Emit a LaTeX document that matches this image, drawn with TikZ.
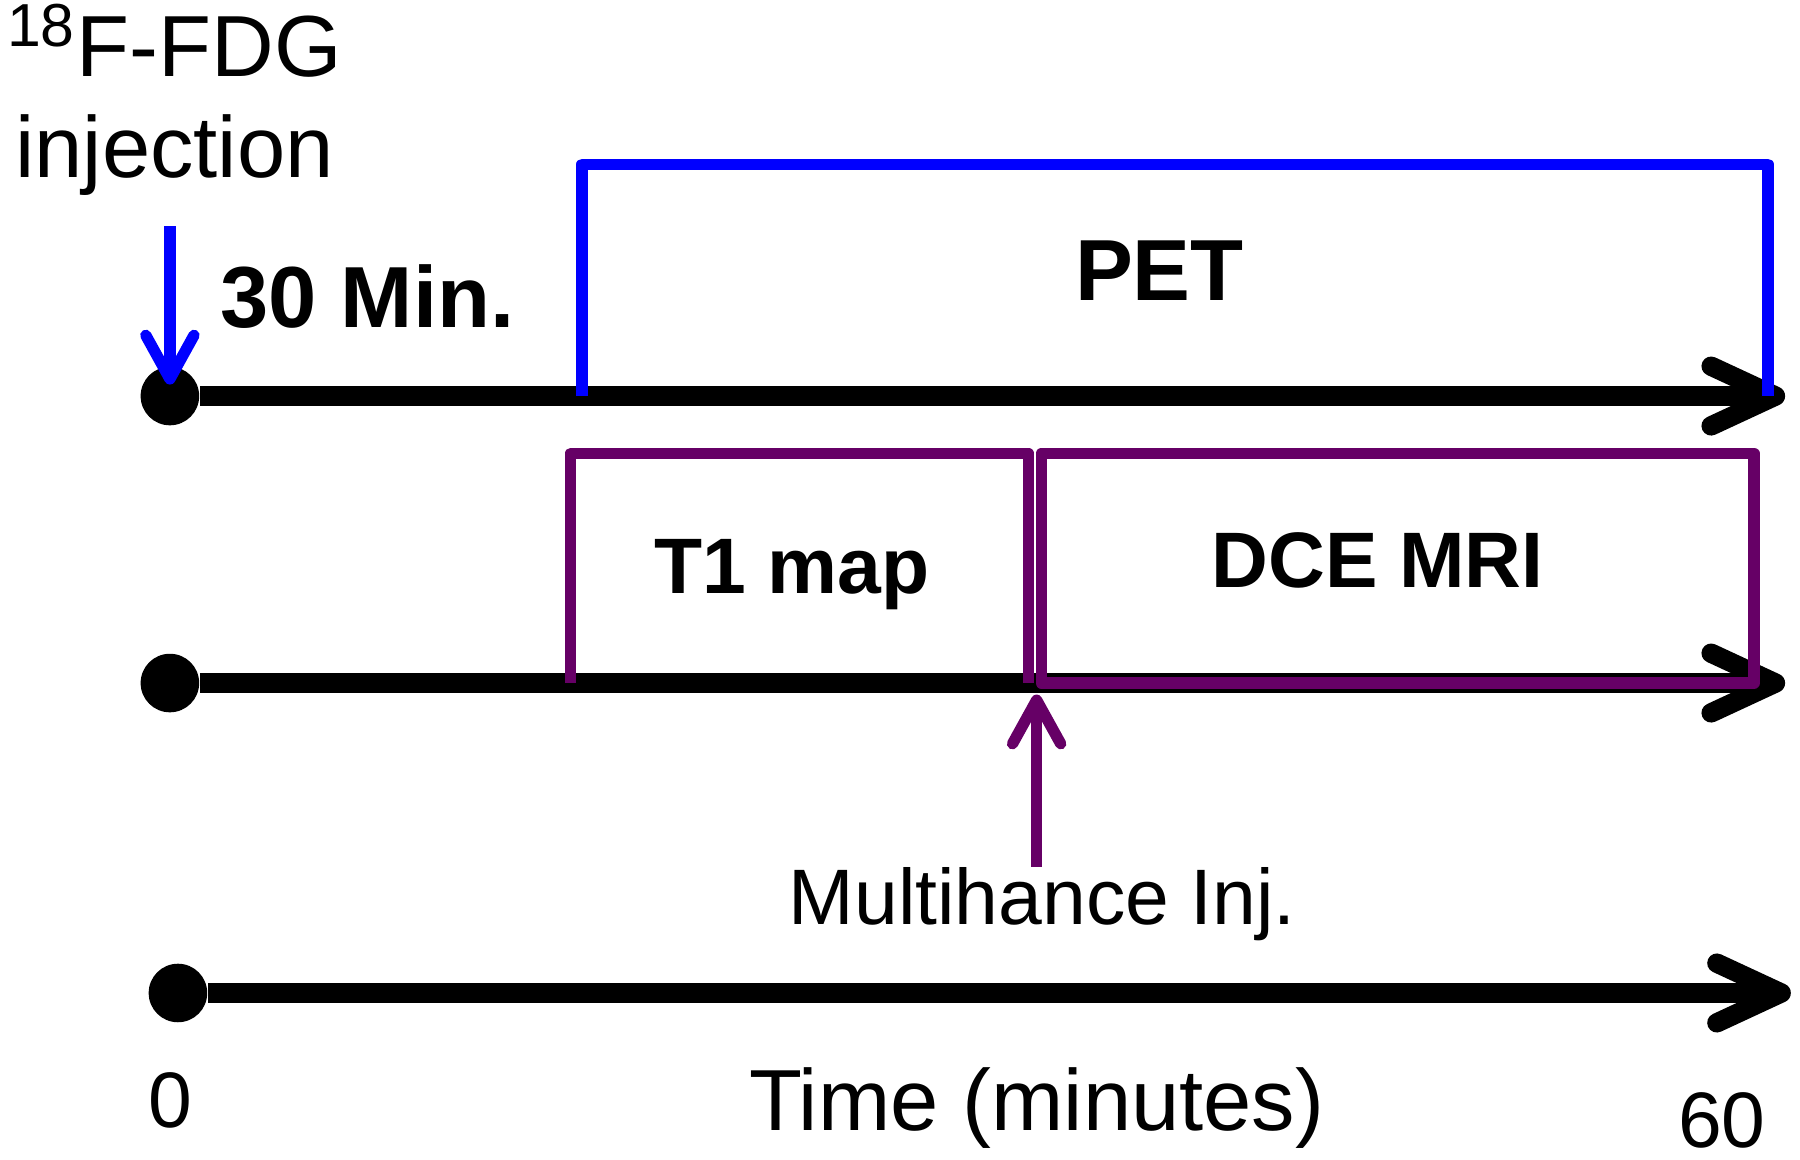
\documentclass[tikz,border=0pt]{standalone}
\usepackage{fontspec}
\setmainfont{Liberation Sans}
\usepackage{xcolor}
\usetikzlibrary{arrows.meta, positioning, calc}

\definecolor{petblue}{RGB}{0,0,255}
\definecolor{mripurple}{RGB}{102,0,102}

\begin{document}
\begin{tikzpicture}[
    big/.style={font=\fontsize{21.5}{25}\selectfont, inner sep=0pt},
    small/.style={font=\fontsize{19.5}{23}\selectfont, inner sep=0pt},
    bigbold/.style={font=\fontsize{21.5}{25}\selectfont\bfseries, inner sep=0pt},
    smallbold/.style={font=\fontsize{19.5}{23}\selectfont\bfseries, inner sep=0pt},
    dot/.style={circle, fill=black, inner sep=0pt, minimum size=5.1mm},
    axis/.style={line width=4.8pt, -{Straight Barb[length=5.6mm, width=5.2mm, line cap=round, line join=round]}},
    petbox/.style={draw=petblue, line width=2.8pt, line join=round},
    mribox/.style={draw=mripurple, line width=2.8pt, line join=round},
    injarrow/.style={line width=2.8pt, -{Straight Barb[length=3.8mm, width=4.2mm, line cap=round, line join=round]}, #1},
]
    \useasboundingbox (0,0) rectangle (15.68,10.10);

    \node[big, align=center] (fdg) at (1.52,9.23) {\textsuperscript{18}F-FDG\\injection};

    \node[dot] (start1) at (1.48,6.65) {};
    \node[dot] (start2) at (1.48,4.15) {};
    \node[dot] (start3) at (1.55,1.45) {};
    \coordinate (end1) at (15.55,6.65);
    \coordinate (end2) at (15.55,4.15);
    \coordinate (end3) at (15.60,1.45);

    \draw[axis] (start1) -- (end1);
    \draw[axis] (start2) -- (end2);
    \draw[axis] (start3) -- (end3);

    \coordinate (fdgtop) at ($(start1.center)+(0,1.48)$);
    \draw[injarrow=petblue] (fdgtop) -- ([yshift=1mm]start1.center);
    \node[bigbold, anchor=base] (wait) at (3.20,7.25) {30 Min.};

    \coordinate (petL) at (5.07,6.65);
    \coordinate (petR) at (15.40,8.67);
    \draw[petbox] (petL) |- (petR) -- (petR |- petL);
    \node[bigbold, anchor=base] (pet) at (10.10,7.48) {PET};

    \coordinate (t1L) at (4.97,4.15);
    \coordinate (t1R) at (8.96,6.15);
    \draw[mribox] (t1L) |- (t1R) -- (t1R |- t1L);
    \node[smallbold, anchor=base] (t1) at (6.90,4.93) {T1 map};

    \coordinate (dceL) at (9.07,4.15);
    \coordinate (dceR) at (15.28,6.15);
    \draw[mribox] (dceL) rectangle (dceR);
    \node[smallbold, anchor=base] (dce) at (12.00,4.98) {DCE MRI};

    \node[small, anchor=base] (gd) at (9.08,2.05) {Multihance Inj.};
    \coordinate (gdbot) at (9.03,2.55);
    \coordinate (gdtip) at (9.03,4.05);
    \draw[injarrow=mripurple] (gdbot) -- (gdtip);

    \node[small, anchor=base] (zero) at (1.48,0.28) {0};
    \node[big, anchor=base] (time) at (9.03,0.25) {Time (minutes)};
    \node[small, anchor=base] (sixty) at (15.00,0.10) {60};
\end{tikzpicture}
\end{document}
